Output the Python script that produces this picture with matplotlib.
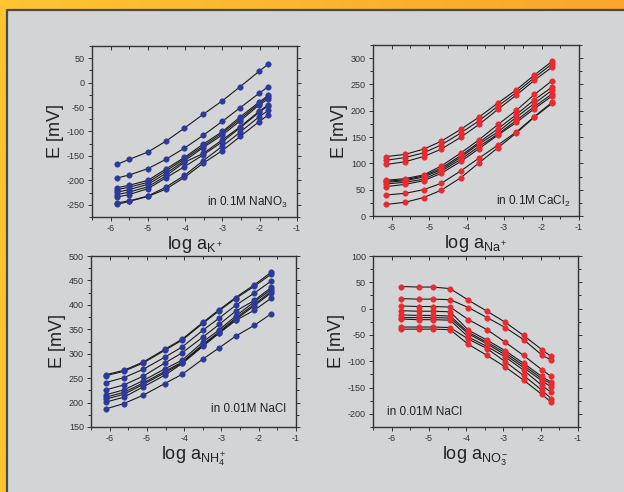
import numpy as np
import matplotlib
matplotlib.use('Agg')
import matplotlib.pyplot as plt
from matplotlib.ticker import MultipleLocator
from matplotlib.patches import Rectangle

plt.rcParams['font.family'] = ['Liberation Sans', 'DejaVu Sans']
plt.rcParams['mathtext.fontset'] = 'custom'
plt.rcParams['mathtext.rm'] = 'Liberation Sans'
plt.rcParams['mathtext.it'] = 'Liberation Sans:italic'
plt.rcParams['axes.unicode_minus'] = False

# 数据：K+ in 0.1M NaNO3
x_k = [-5.82, -5.5, -5.0, -4.52, -4.02, -3.52, -3.0, -2.52, -2.02, -1.77]
e_k = [
    [-167, -157, -142, -120, -93, -65, -37, -8, 23, 38],
    [-195, -189, -176, -157, -134, -108, -79, -51, -22, -8],
    [-215, -210, -200, -177, -153, -126, -100, -70, -40, -26],
    [-219, -214, -204, -181, -156, -130, -103, -74, -43, -29],
    [-224, -219, -208, -186, -160, -133, -107, -78, -46, -33],
    [-229, -224, -213, -191, -163, -145, -117, -90, -59, -45],
    [-234, -229, -217, -195, -172, -148, -121, -92, -61, -47],
    [-246, -242, -232, -214, -190, -160, -130, -101, -70, -57],
    [-249, -243, -233, -218, -194, -165, -139, -110, -80, -66],
]

# Na+ in 0.1M CaCl2
x_na = [-6.14, -5.65, -5.15, -4.68, -4.15, -3.67, -3.16, -2.67, -2.19, -1.72]
e_na = [
    [113, 117, 127, 142, 165, 188, 215, 240, 268, 294],
    [106, 111, 120, 135, 158, 181, 209, 235, 263, 289],
    [98, 103, 113, 127, 150, 174, 203, 230, 258, 283],
    [68, 71, 78, 95, 120, 145, 174, 201, 231, 257],
    [66, 69, 76, 91, 115, 140, 166, 193, 221, 245],
    [64, 67, 74, 88, 112, 137, 160, 188, 214, 239],
    [61, 64, 70, 85, 108, 132, 156, 182, 208, 232],
    [56, 60, 67, 81, 104, 128, 154, 178, 204, 228],
    [40, 43, 50, 62, 86, 110, 135, 160, 189, 216],
    [22, 26, 35, 49, 73, 101, 130, 158, 188, 214],
]

# NH4+ in 0.01M NaCl
x_nh4 = [-6.1, -5.62, -5.1, -4.52, -4.05, -3.5, -3.06, -2.62, -2.12, -1.66]
e_nh4 = [
    [257, 266, 283, 309, 330, 364, 390, 415, 441, 467],
    [255, 264, 281, 307, 328, 362, 388, 413, 438, 463],
    [241, 251, 268, 293, 314, 348, 373, 399, 424, 449],
    [226, 236, 254, 281, 302, 334, 360, 387, 409, 436],
    [216, 226, 245, 269, 287, 324, 349, 377, 406, 432],
    [211, 221, 240, 264, 283, 319, 345, 373, 401, 428],
    [207, 217, 237, 261, 281, 317, 343, 370, 398, 425],
    [201, 211, 232, 256, 280, 315, 342, 368, 389, 414],
    [187, 198, 215, 239, 258, 289, 312, 336, 358, 382],
]

# NO3- in 0.01M NaCl
x_no3 = [-5.74, -5.27, -4.89, -4.43, -3.94, -3.44, -2.95, -2.46, -1.97, -1.72]
e_no3 = [
    [42, 41, 41, 38, 16, -5, -26, -51, -78, -91],
    [19, 18, 18, 17, 2, -17, -36, -59, -88, -98],
    [5, 4, 4, 3, -21, -40, -64, -89, -116, -129],
    [-4, -5, -5, -6, -41, -60, -80, -104, -129, -140],
    [-12, -13, -13, -14, -45, -64, -84, -108, -133, -143],
    [-17, -17, -17, -18, -48, -67, -88, -112, -137, -149],
    [-20, -21, -21, -22, -54, -72, -92, -117, -146, -159],
    [-35, -35, -35, -36, -58, -76, -101, -127, -155, -171],
    [-39, -39, -39, -40, -68, -89, -111, -136, -163, -178],
]

blue = '#2b3a9c'
red = '#ea2a2f'
gray = '#d3d4d6'

fig = plt.figure(figsize=(6.24, 4.92), dpi=100)

# 背景：橙色渐变 + 灰色面板
bg = fig.add_axes([0, 0, 1, 1], zorder=-10)
grad = np.linspace(0, 1, 256).reshape(1, -1)
cmap = matplotlib.colors.LinearSegmentedColormap.from_list('o', ['#ffc533', '#f9a62b'])
bg.imshow(grad, extent=[0, 1, 0, 1], aspect='auto', cmap=cmap)
x0, y1 = 7 / 624, 1 - 10 / 492
bg.add_patch(Rectangle((x0, 0), 1 - x0, y1, facecolor=gray, edgecolor='none'))
bg.plot([x0, x0, 1], [0, y1, y1], color='#4a4a4a', lw=1.6)
bg.set_xlim(0, 1)
bg.set_ylim(0, 1)
bg.axis('off')

panels = [
    ([92, 46, 205, 171], x_k, e_k, blue, (-275, 75), 'log a$_{\\mathregular{K^+}}$',
     'in 0.1M NaNO$_3$', (0.956, 0.085), 'right'),
    ([373, 45, 206, 171], x_na, e_na, red, (0, 325), 'log a$_{\\mathregular{Na^+}}$',
     'in 0.1M CaCl$_2$', (0.956, 0.085), 'right'),
    ([91, 256, 205, 171], x_nh4, e_nh4, blue, (150, 500), 'log a$_{\\mathregular{NH_4^+}}$',
     'in 0.01M NaCl', (0.951, 0.105), 'right'),
    ([373, 256, 205, 171], x_no3, e_no3, red, (-225, 100), 'log a$_{\\mathregular{NO_3^-}}$',
     'in 0.01M NaCl', (0.067, 0.085), 'left'),
]

for (l, t, w, h), xs, curves, col, ylim, xlabel, note, pos, ha in panels:
    ax = fig.add_axes([l / 624, 1 - (t + h) / 492, w / 624, h / 492])
    ax.patch.set_alpha(0)
    for ys in curves:
        ax.plot(xs, ys, '-', color='#1a1a1a', lw=0.8, zorder=2)
        ax.plot(xs, ys, 'o', color=col, ms=4.0, mew=0.3, mec=col, zorder=3)
    ax.set_xlim(-6.5, -1)
    ax.set_ylim(*ylim)
    ax.xaxis.set_major_locator(MultipleLocator(1))
    ax.xaxis.set_minor_locator(MultipleLocator(0.5))
    ax.yaxis.set_major_locator(MultipleLocator(50))
    ax.yaxis.set_minor_locator(MultipleLocator(25))
    ax.tick_params(which='both', direction='out', top=False, right=True,
                   labelsize=6.5, colors='#333333', width=0.7, pad=2)
    ax.tick_params(which='major', length=3)
    ax.tick_params(which='minor', length=2)
    # 顶部刻度朝内
    top = ax.secondary_xaxis('top')
    top.xaxis.set_major_locator(MultipleLocator(1))
    top.xaxis.set_minor_locator(MultipleLocator(0.5))
    top.tick_params(which='both', direction='in', labeltop=False,
                    colors='#333333', width=0.7)
    top.tick_params(which='major', length=3)
    top.tick_params(which='minor', length=2)
    top.spines['top'].set_visible(False)
    for s in ax.spines.values():
        s.set_color('#333333')
        s.set_linewidth(1.0)
    ax.set_ylabel('E [mV]', fontsize=13, color='#222222', labelpad=2)
    ax.set_xlabel(xlabel, fontsize=13, color='#222222', labelpad=1)
    ax.text(pos[0], pos[1], note, transform=ax.transAxes, ha=ha, va='center',
            fontsize=8.5, color='#222222')

plt.savefig('out.png', dpi=100)
